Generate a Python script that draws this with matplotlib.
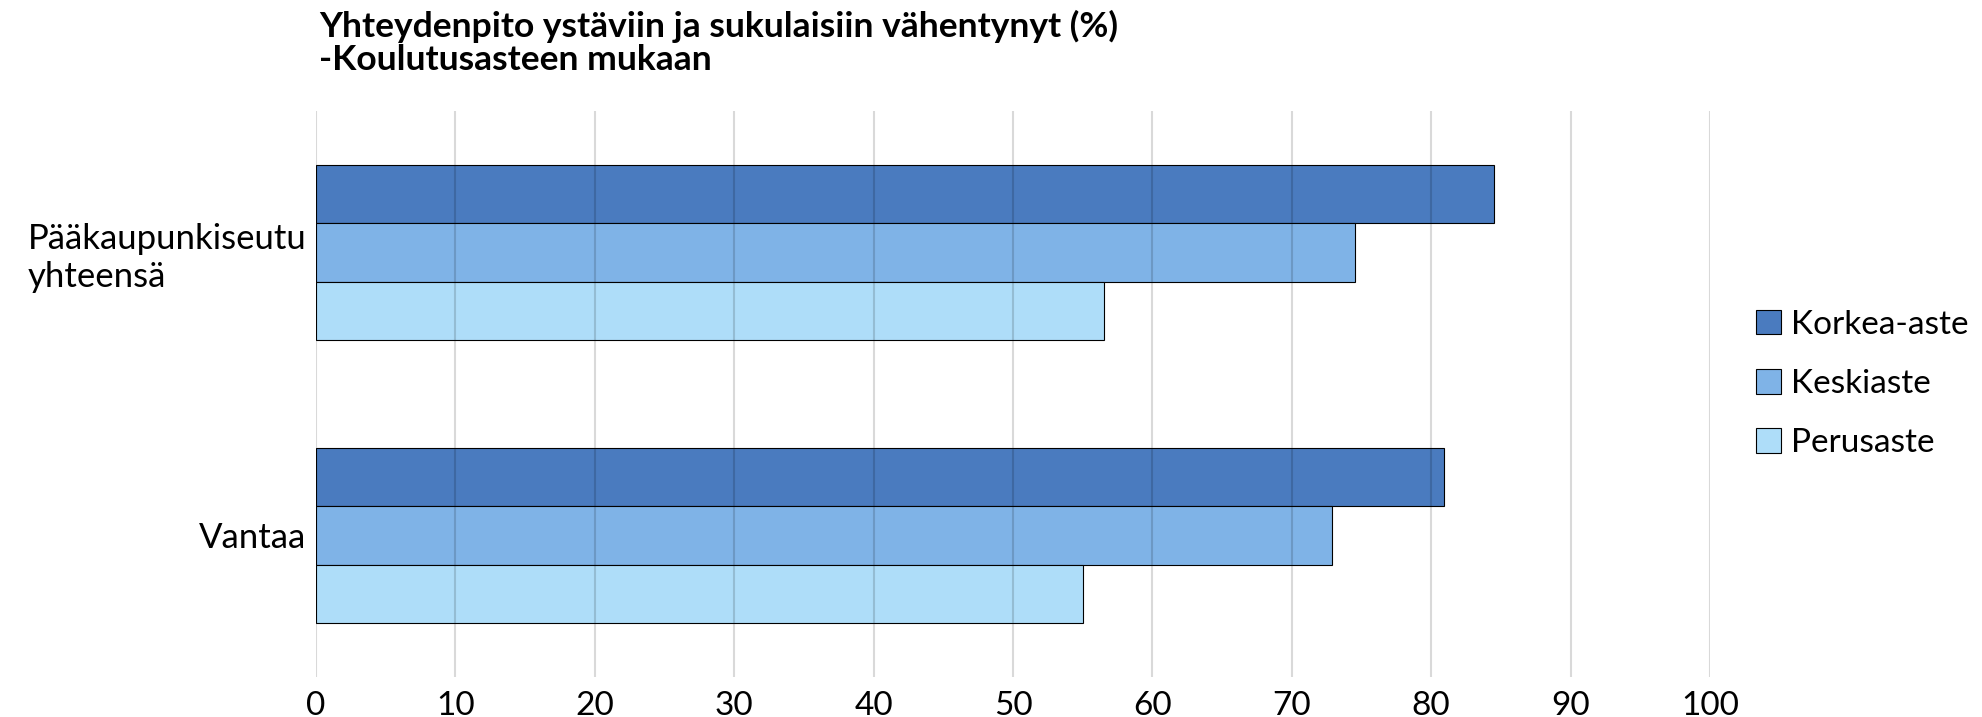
import matplotlib.pyplot as plt
import matplotlib
from matplotlib.patches import Patch
import numpy as np

matplotlib.rcParams['font.family'] = ['Lato', 'DejaVu Sans']

categories = ['Vantaa', 'Pääkaupunkiseutu\nyhteensä']
series = ['Korkea-aste', 'Keskiaste', 'Perusaste']
korkea = [80.9, 84.5]
keski = [72.9, 74.5]
perus = [55.0, 56.5]
colors = ['#4A7BBF', '#7FB3E7', '#AEDDF9']
title = 'Yhteydenpito ystäviin ja sukulaisiin vähentynyt (%)\n-Koulutusasteen mukaan'

fig = plt.figure(figsize=(19.83, 7.17), dpi=100)
ax = fig.add_axes([0.1594, 0.0558, 0.7029, 0.7894])

y = np.arange(len(categories))
h = 0.206
for vals, off, c, name in zip([korkea, keski, perus], [h, 0, -h], colors, series):
    ax.barh(y + off, vals, height=h, color=c, edgecolor='black', linewidth=0.8, label=name, zorder=2)

ax.set_xlim(0, 100)
ax.set_ylim(-0.5, 1.5)
ax.set_xticks(np.arange(0, 101, 10))
ax.set_yticks(y)
ax.set_yticklabels(categories)
for lbl in ax.get_yticklabels():
    lbl.set_multialignment('left')
ax.tick_params(axis='both', length=0, labelsize=24)
ax.tick_params(axis='y', pad=7, labelsize=25)
ax.tick_params(axis='x', pad=10)
ax.grid(axis='x', color='black', alpha=0.15, linewidth=1.5, zorder=3)
ax.set_axisbelow(False)
for s in ax.spines.values():
    s.set_visible(False)

handles = [Patch(facecolor=c, edgecolor='black', linewidth=0.8) for c in colors]
fig.legend(handles, series, loc='center left', bbox_to_anchor=(0.877, 1 - 384 / 717),
           frameon=False, fontsize=24, handlelength=0.75, handleheight=0.75,
           handletextpad=0.3, labelspacing=0.88, borderpad=0)

fig.text(0.161, 1 - 10 / 717, title, ha='left', va='top', fontsize=25.5,
         fontweight='bold', linespacing=1.05)

fig.savefig('out.png', dpi=100)
